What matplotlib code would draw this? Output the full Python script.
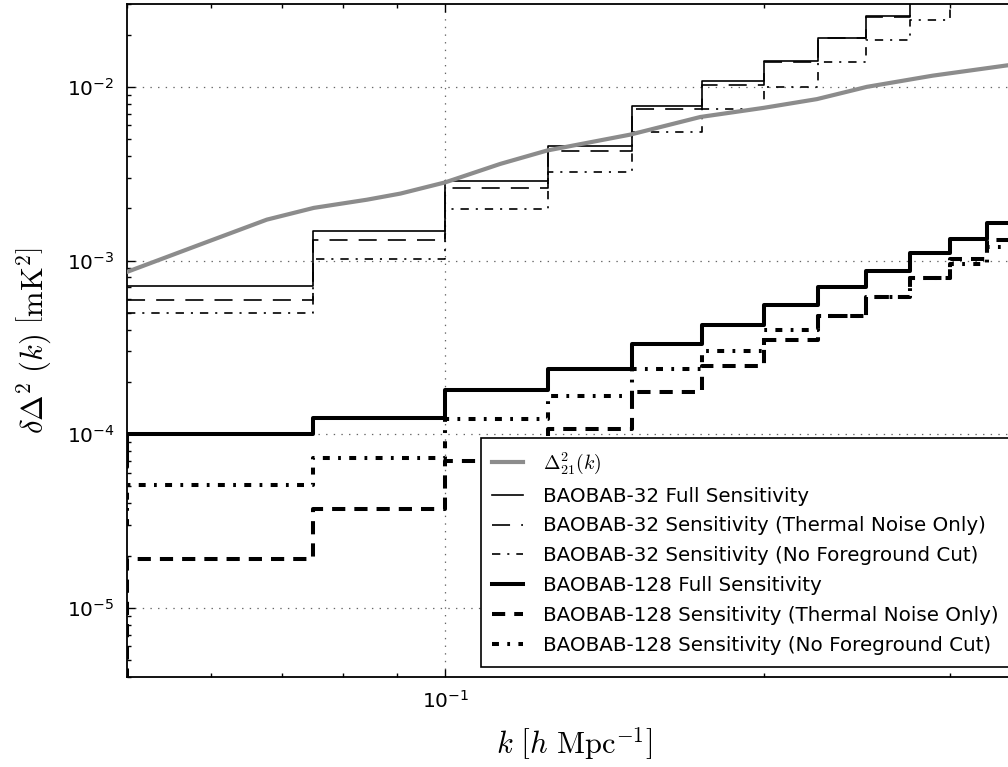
import numpy as np
import matplotlib
matplotlib.use("Agg")
import matplotlib.pyplot as plt
from matplotlib.ticker import LogLocator, NullFormatter

plt.rcParams['font.family'] = ['DejaVu Sans']
plt.rcParams['mathtext.fontset'] = 'cm'
plt.rcParams['lines.scale_dashes'] = False

# ---- theory curve: 21cm power spectrum ----
k_theory = [0.050, 0.0587, 0.0678, 0.0751, 0.0843, 0.0907, 0.100, 0.1127,
            0.1248, 0.1496, 0.1743, 0.200, 0.2246, 0.2504, 0.289, 0.340, 0.350]
delta21 = [8.6e-4, 1.24e-3, 1.72e-3, 2.01e-3, 2.24e-3, 2.43e-3, 2.82e-3, 3.60e-3,
           4.30e-3, 5.31e-3, 6.71e-3, 7.57e-3, 8.50e-3, 1.0e-2, 1.16e-2, 1.33e-2, 1.36e-2]

# ---- sensitivity bins (lower bin edges in k) ----
k_bins = [0.025, 0.05, 0.075, 0.1, 0.125, 0.15, 0.175, 0.2, 0.225, 0.25, 0.275, 0.3, 0.325]
k_last = 0.35

b32_full = [np.nan, 7.1e-4, 1.47e-3, 2.86e-3, 4.55e-3, 7.73e-3, 1.08e-2, 1.40e-2,
            1.92e-2, 2.57e-2, 3.3e-2, 4.1e-2, 5.0e-2]
b32_thermal = [np.nan, 5.9e-4, 1.32e-3, 2.62e-3, 4.30e-3, 7.46e-3, 1.03e-2, 1.39e-2,
               1.90e-2, 2.54e-2, 3.3e-2, 4.1e-2, 5.0e-2]
b32_nofg = [np.nan, 5.0e-4, 1.02e-3, 1.99e-3, 3.22e-3, 5.5e-3, 7.5e-3, 1.0e-2,
            1.39e-2, 1.86e-2, 2.42e-2, 3.2e-2, 4.0e-2]

b128_full = [6.5e-5, 1.0e-4, 1.24e-4, 1.80e-4, 2.36e-4, 3.31e-4, 4.28e-4, 5.58e-4,
             7.06e-4, 8.68e-4, 1.11e-3, 1.33e-3, 1.65e-3]
b128_thermal = [3.5e-6, 1.91e-5, 3.70e-5, 7.0e-5, 1.07e-4, 1.75e-4, 2.46e-4, 3.47e-4,
                4.78e-4, 6.18e-4, 7.95e-4, 1.02e-3, 1.32e-3]
b128_nofg = [2.8e-5, 5.07e-5, 7.31e-5, 1.22e-4, 1.67e-4, 2.36e-4, 3.0e-4, 3.97e-4,
             4.78e-4, 6.18e-4, 7.95e-4, 9.5e-4, 1.19e-3]

labels = [r'$\Delta^2_{21}(k)$',
          'BAOBAB-32 Full Sensitivity',
          'BAOBAB-32 Sensitivity (Thermal Noise Only)',
          'BAOBAB-32 Sensitivity (No Foreground Cut)',
          'BAOBAB-128 Full Sensitivity',
          'BAOBAB-128 Sensitivity (Thermal Noise Only)',
          'BAOBAB-128 Sensitivity (No Foreground Cut)']


def step_line(ax, vals, **kw):
    x = list(k_bins) + [k_last]
    y = list(vals) + [vals[-1]]
    ax.step(x, y, where='post', **kw)


fig = plt.figure(figsize=(10.08, 7.67), dpi=100)
ax = fig.add_axes([127 / 1008, 90 / 767, (1020.6 - 127) / 1008, 673 / 767])

ax.plot(k_theory, delta21, color='#8c8c8c', lw=3, label=labels[0], zorder=3)

thin = 1.2
thick = 2.9
step_line(ax, b32_full, color='k', lw=thin, label=labels[1])
step_line(ax, b32_thermal, color='k', lw=thin, ls=(0, (13, 8)), label=labels[2])
step_line(ax, b32_nofg, color='k', lw=thin, ls=(0, (6, 5, 1.5, 5)), label=labels[3])
step_line(ax, b128_full, color='k', lw=thick, label=labels[4])
step_line(ax, b128_thermal, color='k', lw=thick, ls=(0, (9.5, 6.5)), label=labels[5])
step_line(ax, b128_nofg, color='k', lw=thick, ls=(0, (5, 6, 2, 6)), label=labels[6])

ax.set_xscale('log')
ax.set_yscale('log')
ax.set_xlim(0.05, 0.35)
ax.set_ylim(4.0e-6, 3.0e-2)

ax.xaxis.set_minor_formatter(NullFormatter())
ax.yaxis.set_minor_formatter(NullFormatter())
ax.yaxis.set_major_locator(LogLocator(base=10, numticks=20))

ax.grid(True, which='major', color='0.4', lw=0.9, ls=(0, (1, 4.5)))
ax.tick_params(which='both', direction='in', top=True, right=True, width=1,
               labelsize=14.5, pad=9)
ax.tick_params(which='major', length=6)
ax.tick_params(which='minor', length=3)
for sp in ax.spines.values():
    sp.set_linewidth(1.3)

ax.set_xlabel(r'$k\ \left[h\ \mathrm{Mpc}^{-1}\right]$', fontsize=22, labelpad=10)
ax.set_ylabel(r'$\delta\Delta^2\ (k)\ \left[\mathrm{mK}^2\right]$', fontsize=22, labelpad=10)

leg = ax.legend(loc='lower right', fontsize=14.3, frameon=True, fancybox=False,
                edgecolor='k', framealpha=1, handlelength=1.55, handletextpad=1.0,
                labelspacing=0.55, borderpad=0.6, borderaxespad=0.5)
leg.get_frame().set_linewidth(1.2)

fig.savefig('out.png', dpi=100)
